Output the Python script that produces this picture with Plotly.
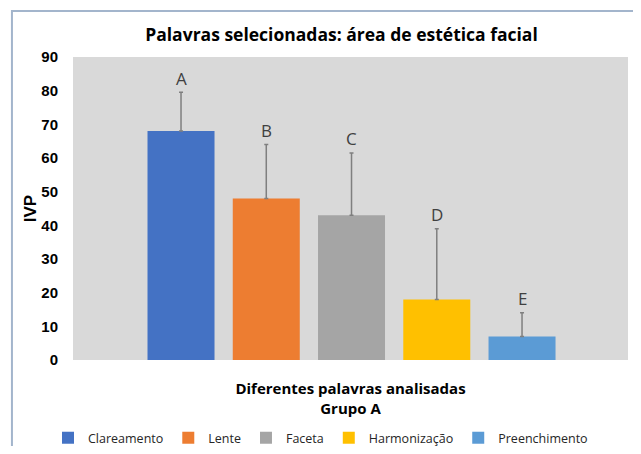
import plotly.graph_objects as go

categories = ["Clareamento", "Lente", "Faceta", "Harmonização", "Preenchimento"]
values = [68, 48, 43, 18, 7]
errors = [11.5, 16, 18.5, 21, 7]
letters = ["A", "B", "C", "D", "E"]
colors = ["#4472C4", "#ED7D31", "#A5A5A5", "#FFC000", "#5B9BD5"]
y_ticks = [0, 10, 20, 30, 40, 50, 60, 70, 80, 90]

fig = go.Figure()
for cat, val, err, col in zip(categories, values, errors, colors):
    fig.add_trace(go.Bar(
        x=[cat], y=[val], name=cat,
        marker=dict(color=col, line=dict(width=0)),
        error_y=dict(type="data", array=[err], arrayminus=[0], symmetric=False,
                     color="#7F7F7F", thickness=1.5, width=2),
    ))

for cat, val, err, let in zip(categories, values, errors, letters):
    fig.add_annotation(x=cat, y=val + err, text=let, showarrow=False,
                       yshift=14, font=dict(family="Open Sans", size=17, color="#404040"))

fig.update_layout(
    width=625, height=438,
    margin=dict(l=65, r=5, t=49, b=86),
    paper_bgcolor="white", plot_bgcolor="#D9D9D9",
    barmode="overlay", bargap=0.214,
    title=dict(text="<b>Palavras selecionadas: área de estética facial</b>",
               x=0.5336, xref="container", y=0.938, yref="container",
               xanchor="center", yanchor="middle",
               font=dict(family="Open Sans", size=17.5, color="black")),
    xaxis=dict(range=[-1.267, 5.243], showticklabels=False, showgrid=False,
               zeroline=False, showline=False, ticks="",
               title=dict(text="<b>Diferentes palavras analisadas<br>Grupo A</b>",
                          standoff=23,
                          font=dict(family="Open Sans", size=15, color="black"))),
    yaxis=dict(range=[0, 90], tickvals=y_ticks, showgrid=False, zeroline=False,
               showline=False, ticks="", ticklabelstandoff=14,
               tickfont=dict(family="Liberation Sans", size=15, color="black", weight="bold"),
               title=dict(text="<b>IVP</b>", standoff=0,
                          font=dict(family="Liberation Sans", size=17, color="black"))),
    legend=dict(orientation="h", x=0.5, xanchor="center", xref="container",
                y=0.018, yref="container", yanchor="middle",
                font=dict(family="Open Sans", size=12.5, color="#262626"),
                bgcolor="rgba(0,0,0,0)"),
    showlegend=True,
)

fig.add_shape(type="rect", xref="paper", yref="paper",
              x0=-0.11, x1=1.06, y0=-0.4, y1=1.152,
              line=dict(color="#A3B5CC", width=2), fillcolor="rgba(0,0,0,0)", layer="below")

fig.write_html("out.html")
